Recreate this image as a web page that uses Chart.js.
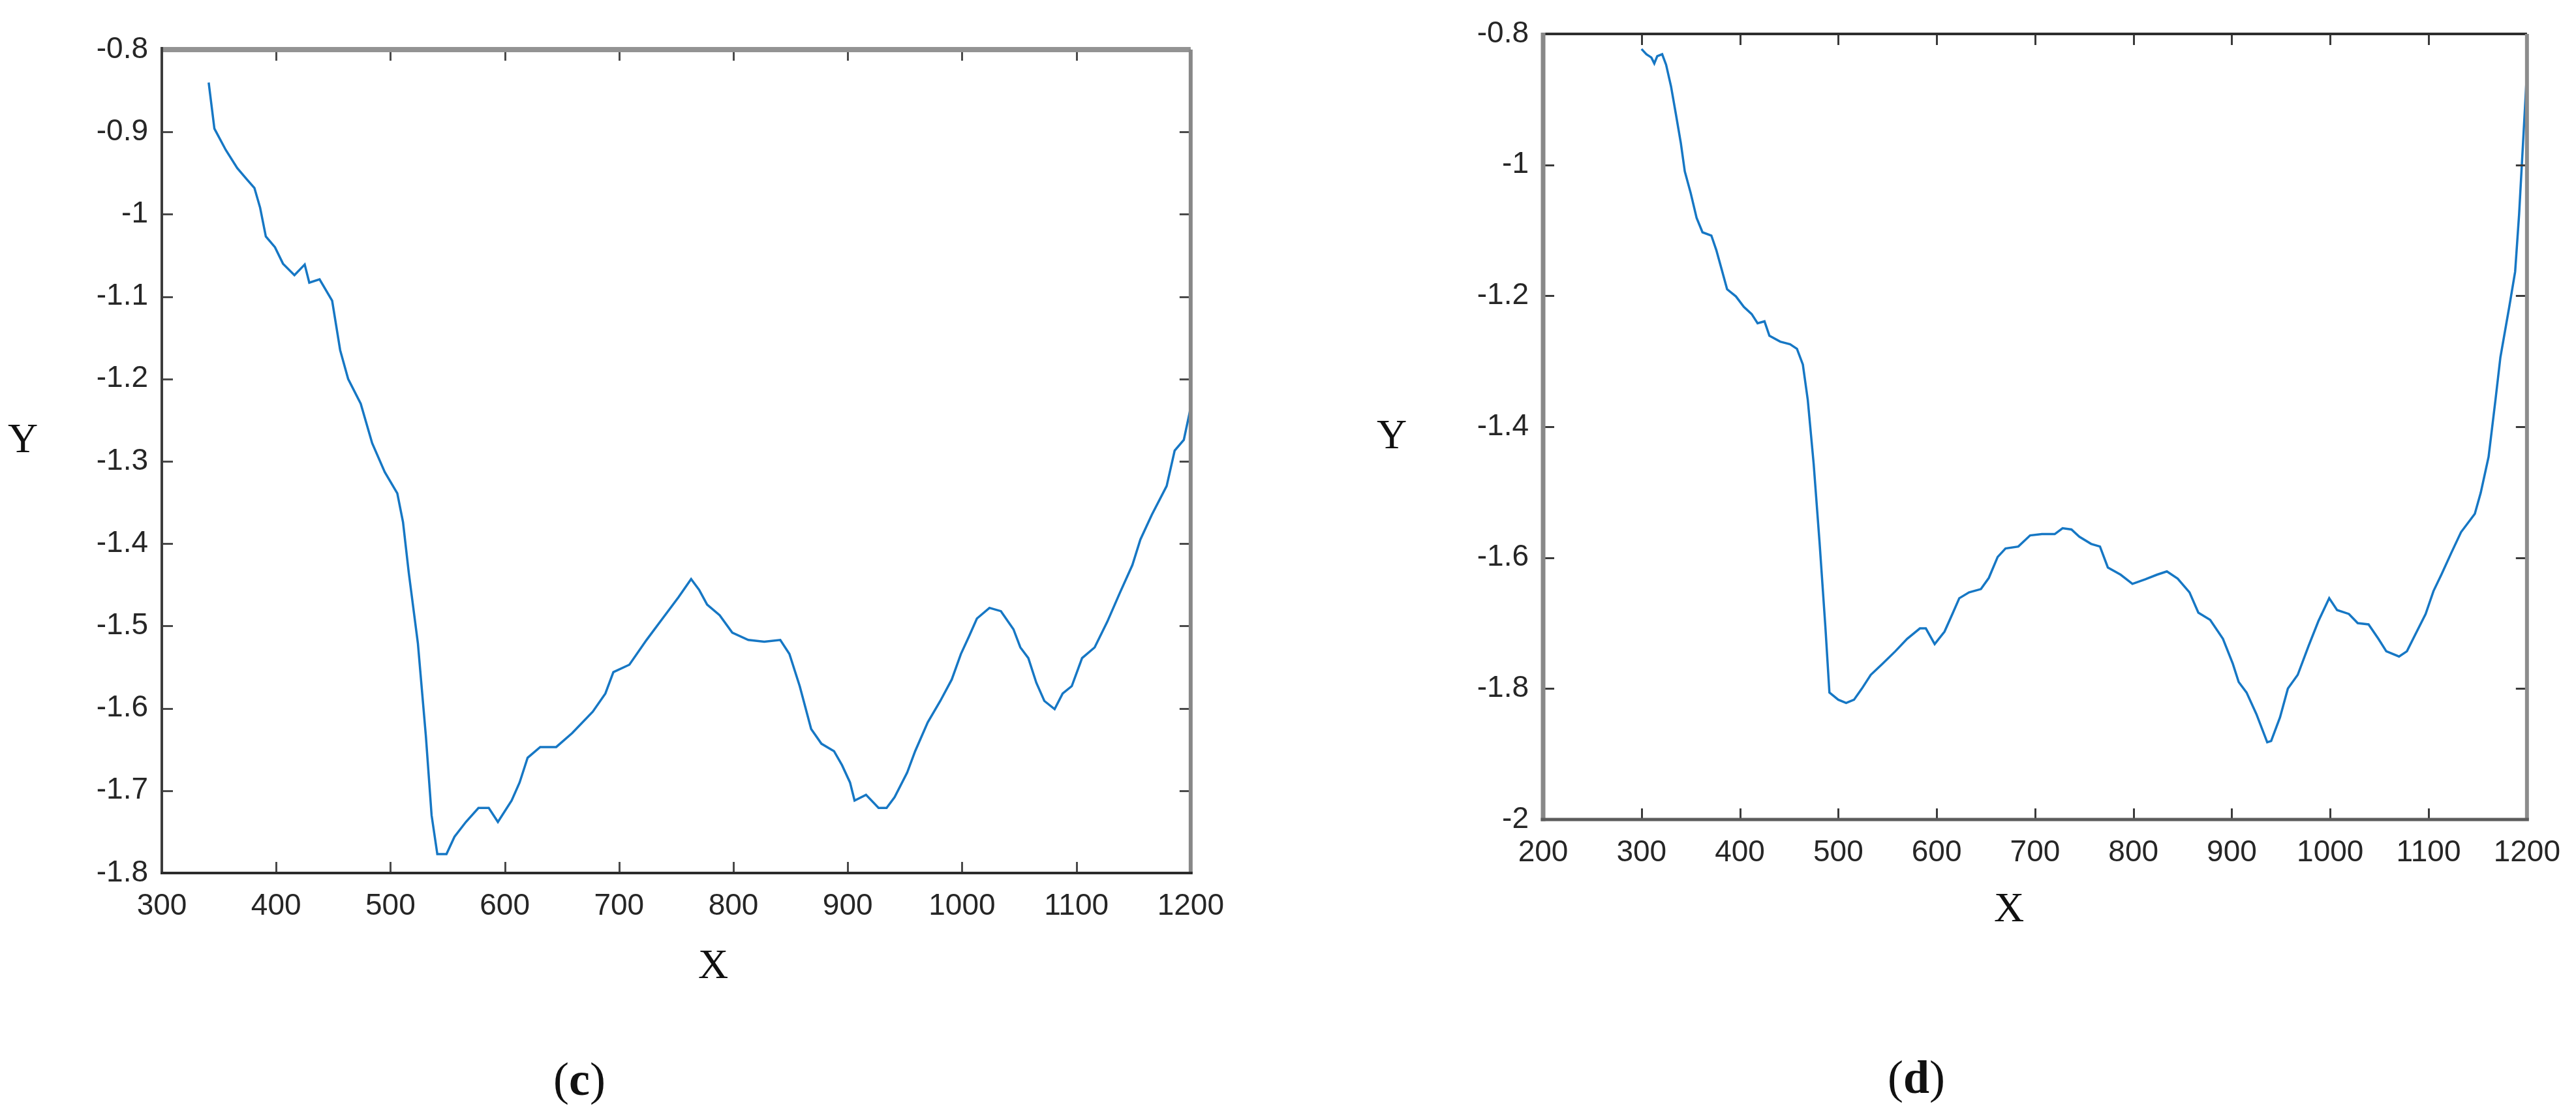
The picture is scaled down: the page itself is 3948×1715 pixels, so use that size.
<!DOCTYPE html>
<html>
<head>
<meta charset="utf-8">
<script src="https://cdn.jsdelivr.net/npm/chart.js@4.4.1/dist/chart.umd.min.js"></script>
<style>
  html, body { margin: 0; padding: 0; background: #ffffff; }
  body { width: 3948px; height: 1715px; position: relative; overflow: hidden; }
  .box { position: absolute; }
  .lbl { position: absolute; font-family: "Liberation Serif", "Times New Roman", serif; color: #111; line-height: 1; transform: translate(-50%, -50%); white-space: nowrap; }
  .ax { font-size: 64px; }
  .cap { font-size: 72px; }
</style>
</head>
<body>
<div class="box" id="boxC" style="left:0px; top:0px; width:1900px; height:1450px;"><canvas id="chartC"></canvas></div>
<div class="box" id="boxD" style="left:2000px; top:0px; width:1948px; height:1400px;"><canvas id="chartD"></canvas></div>

<div class="lbl ax" style="left:35px; top:672px;">Y</div>
<div class="lbl ax" style="left:1093px; top:1478px;">X</div>
<div class="lbl cap" style="left:888px; top:1654px;">(<b>c</b>)</div>

<div class="lbl ax" style="left:2133px; top:666px;">Y</div>
<div class="lbl ax" style="left:3079px; top:1391px;">X</div>
<div class="lbl cap" style="left:2937px; top:1651px;">(<b>d</b>)</div>

<script>
// ---------- Panel (c) ----------
const xC = [341,346,356,366,374,381,386,391,399,406,416,425,429,438,449,456,463,474,484,495,
            506,511,516,524,531,536,541,549,556,566,577,586,594,606,613,620,631,645,659,677,
            688,695,709,724,738,752,763,770,777,788,799,813,827,841,849,858,868,877,888,895,
            902,906,916,927,934,941,952,959,970,981,991,999,1006,1013,1024,1034,1045,1051,1058,1065,
            1072,1081,1088,1096,1105,1116,1127,1138,1149,1156,1166,1179,1186,1194,1200];
const yC = [-0.84,-0.896,-0.922,-0.944,-0.957,-0.968,-0.992,-1.027,-1.04,-1.06,
            -1.074,-1.061,-1.083,-1.079,-1.105,-1.165,-1.20,-1.23,-1.278,-1.313,
            -1.339,-1.374,-1.435,-1.521,-1.634,-1.73,-1.777,-1.777,-1.756,-1.738,
            -1.721,-1.721,-1.738,-1.712,-1.69,-1.66,-1.647,-1.647,-1.63,-1.604,
            -1.582,-1.556,-1.547,-1.517,-1.491,-1.465,-1.443,-1.456,-1.474,-1.487,
            -1.508,-1.517,-1.519,-1.517,-1.534,-1.573,-1.625,-1.643,-1.652,-1.669,
            -1.69,-1.712,-1.705,-1.721,-1.721,-1.708,-1.678,-1.652,-1.617,-1.591,
            -1.565,-1.534,-1.513,-1.491,-1.478,-1.482,-1.504,-1.526,-1.539,-1.569,
            -1.591,-1.601,-1.582,-1.573,-1.539,-1.526,-1.495,-1.460,-1.426,-1.395,
            -1.365,-1.330,-1.287,-1.274,-1.235];
const xTicksC = [300,400,500,600,700,800,900,1000,1100,1200];
const yTicksC = [-0.8,-0.9,-1,-1.1,-1.2,-1.3,-1.4,-1.5,-1.6,-1.7,-1.8];

// ---------- Panel (d) ----------
const xD = [300,305,310,313,316,321,325,330,335,340,344,350,356,362,371,376,381,387,396,404,
            412,418,425,430,441,451,458,464,469,475,481,487,491,500,508,516,524,533,545,558,
            570,583,589,598,608,616,623,633,645,653,662,670,683,695,707,720,728,737,745,757,
            766,774,787,799,812,824,834,845,857,866,878,891,901,907,915,925,936,940,949,957,
            967,978,988,999,1007,1019,1028,1039,1049,1057,1070,1078,1086,1097,1105,1113,1123,1133,1147,1153,
            1161,1168,1173,1182,1188,1192,1196,1200];
const yD = [-0.823,-0.831,-0.836,-0.845,-0.834,-0.831,-0.847,-0.880,-0.923,-0.967,
            -1.010,-1.043,-1.081,-1.103,-1.108,-1.130,-1.157,-1.190,-1.201,-1.217,
            -1.228,-1.242,-1.239,-1.261,-1.270,-1.274,-1.281,-1.305,-1.359,-1.457,
            -1.577,-1.708,-1.806,-1.817,-1.822,-1.817,-1.800,-1.779,-1.762,-1.743,
            -1.724,-1.708,-1.708,-1.732,-1.713,-1.686,-1.662,-1.653,-1.648,-1.631,
            -1.599,-1.586,-1.583,-1.566,-1.564,-1.564,-1.555,-1.557,-1.568,-1.579,
            -1.583,-1.615,-1.626,-1.640,-1.633,-1.626,-1.621,-1.632,-1.653,-1.684,
            -1.695,-1.724,-1.762,-1.790,-1.806,-1.839,-1.882,-1.880,-1.844,-1.800,
            -1.779,-1.735,-1.697,-1.662,-1.680,-1.686,-1.700,-1.702,-1.724,-1.743,
            -1.751,-1.743,-1.719,-1.686,-1.651,-1.626,-1.593,-1.561,-1.533,-1.501,
            -1.446,-1.359,-1.294,-1.217,-1.163,-1.076,-0.967,-0.858];
const xTicksD = [200,300,400,500,600,700,800,900,1000,1100,1200];
const yTicksD = [-0.8,-1,-1.2,-1.4,-1.6,-1.8,-2];

const LINE_COLOR = '#1677c4';
const TICK_FONT = { family: '"Liberation Sans", Arial, sans-serif', size: 46 };
const fmt = v => String(Number(Number(v).toFixed(2)));

// Box frame + inward tick marks, positioned through the chart's own scales
const framePlugin = {
  id: 'frame',
  afterDatasetsDraw(chart, args, o) {
    const { ctx, chartArea: a, scales: { x, y } } = chart;
    ctx.save();
    ctx.lineCap = 'butt';
    ctx.strokeStyle = o.tickColor;
    ctx.lineWidth = 3;
    const L = o.tickLen;
    x.ticks.forEach(t => {
      const px = Math.round(x.getPixelForValue(t.value)) + 0.5;
      ctx.beginPath();
      ctx.moveTo(px, a.bottom); ctx.lineTo(px, a.bottom - L);
      ctx.moveTo(px, a.top); ctx.lineTo(px, a.top + L);
      ctx.stroke();
    });
    y.ticks.forEach(t => {
      const py = Math.round(y.getPixelForValue(t.value)) + 0.5;
      ctx.beginPath();
      ctx.moveTo(a.left, py); ctx.lineTo(a.left + L, py);
      ctx.moveTo(a.right, py); ctx.lineTo(a.right - L, py);
      ctx.stroke();
    });
    const side = (c, w, x1, y1, x2, y2) => {
      ctx.strokeStyle = c; ctx.lineWidth = w;
      ctx.beginPath(); ctx.moveTo(x1, y1); ctx.lineTo(x2, y2); ctx.stroke();
    };
    const b = o.borders;
    side(b.top[0], b.top[1], a.left, a.top, a.right, a.top);
    side(b.right[0], b.right[1], a.right, a.top, a.right, a.bottom);
    side(b.left[0], b.left[1], a.left, a.top - b.top[1] / 2, a.left, a.bottom + b.bottom[1] / 2);
    side(b.bottom[0], b.bottom[1], a.left - b.left[1] / 2, a.bottom, a.right + b.right[1] / 2, a.bottom);
    ctx.restore();
  }
};

function makeChart(id, xs, ys, xTicks, yTicks, cfg) {
  const pts = xs.map((v, i) => ({ x: v, y: ys[i] }));
  return new Chart(document.getElementById(id), {
    type: 'scatter',
    data: { datasets: [{ data: pts, showLine: true, borderColor: LINE_COLOR, borderWidth: 3.5,
                         pointRadius: 0, pointHoverRadius: 0, tension: 0, fill: false }] },
    options: {
      responsive: true, maintainAspectRatio: false, animation: false,
      events: [],
      layout: { padding: { top: cfg.top, right: cfg.right, bottom: 0, left: 0 } },
      plugins: { legend: { display: false }, tooltip: { enabled: false }, title: { display: false },
                 frame: { tickColor: cfg.tickColor, tickLen: 17, borders: cfg.borders } },
      scales: {
        x: {
          type: 'linear', min: xTicks[0], max: xTicks[xTicks.length - 1],
          afterBuildTicks: s => { s.ticks = xTicks.map(v => ({ value: v })); },
          afterFit: s => { s.height = cfg.xH; },
          grid: { display: false, drawTicks: false },
          border: { display: false },
          ticks: { autoSkip: false, maxRotation: 0, color: '#262626', font: TICK_FONT, padding: cfg.xPad,
                   callback: v => fmt(v) }
        },
        y: {
          type: 'linear', min: yTicks[yTicks.length - 1], max: yTicks[0],
          afterBuildTicks: s => { s.ticks = yTicks.map(v => ({ value: v })); },
          afterFit: s => { s.width = cfg.yW; },
          grid: { display: false, drawTicks: false },
          border: { display: false },
          ticks: { autoSkip: false, color: '#262626', font: TICK_FONT, padding: cfg.yPad,
                   callback: v => fmt(v) }
        }
      }
    },
    plugins: [framePlugin]
  });
}

makeChart('chartC', xC, yC, xTicksC, yTicksC, {
  top: 76, right: 67, xH: 112, yW: 248, xPad: 24, yPad: 21,
  tickColor: '#4a4a4a',
  borders: { top: ['#939393', 8], right: ['#888888', 6], bottom: ['#2c2c2c', 4], left: ['#3c3c3c', 4] }
});

makeChart('chartD', xD, yD, xTicksD, yTicksD, {
  top: 52, right: 73, xH: 144, yW: 365, xPad: 24, yPad: 22,
  tickColor: '#3a3a3a',
  borders: { top: ['#2e2e2e', 4], right: ['#8c8c8c', 6], bottom: ['#5c5c5c', 5], left: ['#888888', 7] }
});
</script>
</body>
</html>
